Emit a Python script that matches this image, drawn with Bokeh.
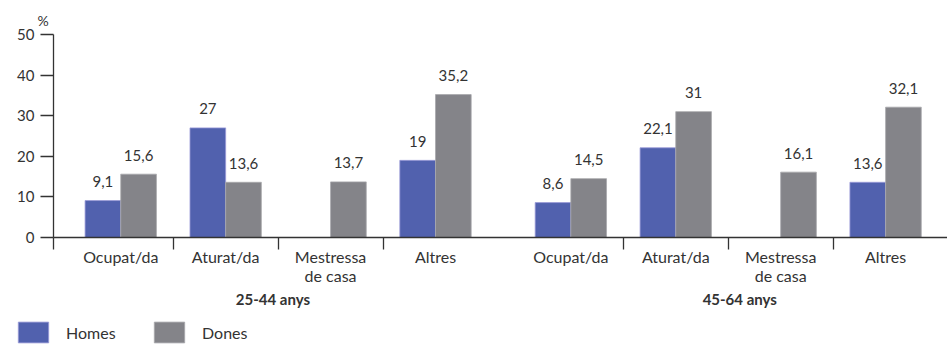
from bokeh.plotting import figure
from bokeh.layouts import column, row
from bokeh.models import ColumnDataSource, FixedTicker, LinearAxis, Legend, LegendItem, Range1d
from bokeh.core.properties import value
from bokeh.embed import file_html
from bokeh.resources import INLINE

# ---- data ----
categories = ["Ocupat/da", "Aturat/da", "Mestressa\nde casa", "Altres"]
groups = ["25-44 anys", "45-64 anys"]
series = ["Homes", "Dones"]
homes = [9.1, 27, None, 19, 8.6, 22.1, None, 13.6]
dones = [15.6, 13.6, 13.7, 35.2, 14.5, 31, 16.1, 32.1]
y_ticks = [0, 10, 20, 30, 40, 50]

# ---- layout helpers (positions only) ----
STEP = 100
GAP = 129
centers = [i * STEP for i in range(4)] + [3 * STEP + GAP + i * STEP for i in range(4)]
separators = [-64, 50, 150, 250, 479, 579, 679]
group_pos = [145, 590]
BW = 34

FONT = "Lato"
TXT = "#333333"
BLUE = "#5161ae"
GREY = "#848489"
BLUE_EDGE = "#9a9ad8"
GREY_EDGE = "#a8a8ac"

def fmt(v):
    return f"{v:g}".replace(".", ",")

hx, hy, hl = [], [], []
for c, v in zip(centers, homes):
    if v is not None:
        hx.append(c - BW / 2); hy.append(v); hl.append(fmt(v))
dx = [c + BW / 2 for c in centers]
dl = [fmt(v) for v in dones]

src_h = ColumnDataSource(dict(x=hx, top=hy, label=hl))
src_d = ColumnDataSource(dict(x=dx, top=dones, label=dl))

p = figure(width=947, height=315, output_backend="svg", toolbar_location=None,
           x_range=Range1d(-64.1, 788.0), y_range=Range1d(0, 50),
           min_border_left=53, min_border_top=34, min_border_right=0, min_border_bottom=78,
           x_axis_location=None, y_axis_location=None, title="%")
p.outline_line_color = None
p.xgrid.grid_line_color = None
p.ygrid.grid_line_color = None
p.background_fill_color = "white"
p.border_fill_color = "white"

p.title.align = "left"
p.title.offset = -16
p.title.standoff = 11
p.title.text_font = FONT
p.title.text_font_style = "normal"
p.title.text_font_size = "14px"
p.title.text_color = TXT

p.vbar(x="x", top="top", width=BW, bottom=0, source=src_h,
       fill_color=BLUE, line_color=BLUE_EDGE, line_width=0.8)
p.vbar(x="x", top="top", width=BW, bottom=0, source=src_d,
       fill_color=GREY, line_color=GREY_EDGE, line_width=0.8)

for s in (src_h, src_d):
    p.text(x="x", y="top", text="label", source=s, y_offset=-19,
           text_align="center", text_baseline="middle",
           text_font=value(FONT), text_font_size="15px", text_color=TXT)

# y axis
yax = LinearAxis(ticker=FixedTicker(ticks=y_ticks))
yax.axis_line_color = TXT
yax.axis_line_width = 1.3
yax.major_tick_line_color = TXT
yax.major_tick_line_width = 1.3
yax.major_tick_out = 13
yax.major_tick_in = 0
yax.minor_tick_line_color = None
yax.major_label_standoff = 6
yax.major_label_text_font = FONT
yax.major_label_text_font_size = "15px"
yax.major_label_text_color = TXT
p.add_layout(yax, "left")

# x axis with categories
xax = LinearAxis(ticker=FixedTicker(ticks=centers, minor_ticks=separators))
xax.major_label_overrides = {c: categories[i % 4] for i, c in enumerate(centers)}
xax.axis_line_color = TXT
xax.axis_line_width = 1.3
xax.major_tick_line_color = None
xax.major_tick_out = 0
xax.major_tick_in = 0
xax.minor_tick_line_color = TXT
xax.minor_tick_line_width = 1.3
xax.minor_tick_out = 12
xax.minor_tick_in = 0
xax.major_label_standoff = -3
xax.major_label_text_font = FONT
xax.major_label_text_font_size = "16px"
xax.major_label_text_line_height = 1.0
xax.major_label_text_color = TXT
p.add_layout(xax, "below")

# group labels
gax = LinearAxis(ticker=FixedTicker(ticks=group_pos))
gax.major_label_overrides = {g: groups[i] for i, g in enumerate(group_pos)}
gax.axis_line_color = None
gax.major_tick_line_color = None
gax.minor_tick_line_color = None
gax.major_tick_out = 0
gax.major_tick_in = 0
gax.major_label_standoff = 2
gax.major_label_text_font = FONT
gax.major_label_text_font_style = "bold"
gax.major_label_text_font_size = "15px"
gax.major_label_text_color = TXT
p.add_layout(gax, "below")

# legend strip (swatches only: the dummy bars sit outside the visible range)
lf = figure(width=947, height=30, output_backend="svg", toolbar_location=None,
            x_range=Range1d(0, 1), y_range=Range1d(0, 1),
            min_border=0, x_axis_location=None, y_axis_location=None)
lf.outline_line_color = None
lf.xgrid.grid_line_color = None
lf.ygrid.grid_line_color = None
dummy = ColumnDataSource(dict(x=[-10], top=[-10]))
lh = lf.vbar(x="x", top="top", width=0.1, source=dummy,
             fill_color=BLUE, line_color=BLUE_EDGE, line_width=0.8)
ld = lf.vbar(x="x", top="top", width=0.1, source=dummy,
             fill_color=GREY, line_color=GREY_EDGE, line_width=0.8)
legend = Legend(items=[LegendItem(label=series[0], renderers=[lh]),
                       LegendItem(label=series[1], renderers=[ld])],
                orientation="horizontal", location=(14, 0),
                glyph_width=38, glyph_height=26, label_width=84, label_height=26,
                label_standoff=14, spacing=0, padding=0, margin=0,
                border_line_color=None, background_fill_alpha=0,
                label_text_font=FONT, label_text_font_size="16px", label_text_color=TXT)
lf.add_layout(legend, "center")

open("out.html", "w").write(file_html(column(p, row(lf)), INLINE))
